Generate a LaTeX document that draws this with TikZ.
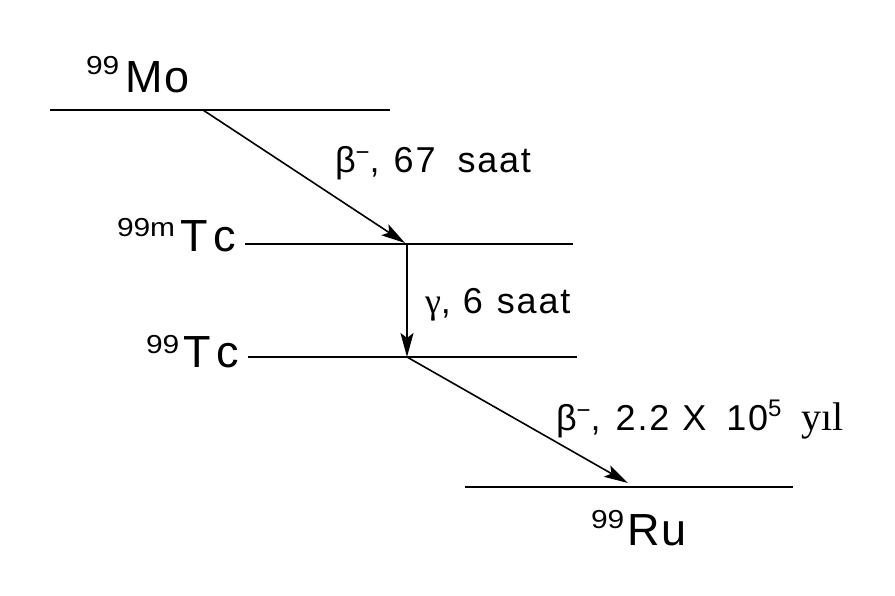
\documentclass[tikz,border=0pt]{standalone}
\usepackage{fontspec}
\setmainfont{Liberation Sans}
\newfontfamily\serifgr{Liberation Serif}
\newfontfamily\widesans[FakeStretch=1.15]{Liberation Sans}
\newfontfamily\spacedsans[LetterSpace=5]{Liberation Sans}
\usetikzlibrary{arrows.meta}
\newcommand{\elfont}{\fontsize{45}{48}\selectfont}
\newcommand{\supfont}{\widesans\fontsize{26}{28}\selectfont}
\newcommand{\lblfont}{\spacedsans\fontsize{36}{40}\selectfont}
\newcommand{\lblsup}{\fontsize{24}{26}\selectfont}
\begin{document}
\begin{tikzpicture}[x=1pt,y=-1pt,
  level/.style={line width=2.2pt},
  decay/.style={line width=1.6pt,-{Stealth[length=24pt,width=13pt,inset=5pt]}},
  txt/.style={inner sep=0pt,outer sep=0pt,anchor=base west}]
\useasboundingbox[fill=white] (0,0) rectangle (895,596);
% energy levels
\coordinate (moL) at (50,110);  \coordinate (moR) at (390,110);
\coordinate (mtcL) at (245,244); \coordinate (mtcR) at (573,244);
\coordinate (tcL) at (248,357); \coordinate (tcR) at (577,357);
\coordinate (ruL) at (465,487); \coordinate (ruR) at (793,487);
\draw[level] (moL) -- (moR);
\draw[level] (mtcL) -- (mtcR);
\draw[level] (tcL) -- (tcR);
\draw[level] (ruL) -- (ruR);
% decay points
\coordinate (moOut) at (203,110);
\coordinate (mtcIn) at (405,243);
\coordinate (mtcOut) at (407,244);
\coordinate (tcIn) at (407,357);
\coordinate (tcOut) at (407,357);
\coordinate (ruIn) at (628,483);
\draw[decay] (moOut) -- (mtcIn);
\draw[decay,line width=2pt] (mtcOut) -- (tcIn);
\draw[decay] (tcOut) -- (ruIn);
% element labels
\node[txt] (moA) at (86,75) {\supfont 99};
\node[txt] (moS) at (125,93) {\elfont M\hspace{2pt}o};
\node[txt] (mtcA) at (117,237) {\supfont 99m};
\node[txt] (mtcS) at (180,252) {\elfont T\hspace{6pt}c};
\node[txt] (tcA) at (146,353) {\supfont 99};
\node[txt] (tcS) at (183,367) {\elfont T\hspace{6pt}c};
\node[txt] (ruA) at (591,528) {\supfont 99};
\node[txt] (ruS) at (627,545) {\elfont R\hspace{2pt}u};
% decay labels
\node[txt] (l1) at (335,173) {\lblfont β\raisebox{12pt}{\lblsup −},\hspace{14pt}67\hspace{22pt}saat};
\node[txt] (l2) at (425,313) {\lblfont {\serifgr γ},\hspace{12pt}6\hspace{14pt}saat};
\node[txt] (l3) at (556,430) {\lblfont β\raisebox{12pt}{\lblsup −},\hspace{15pt}2.2\hspace{13pt}X\hspace{20pt}10\raisebox{14pt}{\lblsup 5}\hspace{20pt}{\serifgr\fontsize{40}{42}\selectfont yıl}};
\end{tikzpicture}
\end{document}
